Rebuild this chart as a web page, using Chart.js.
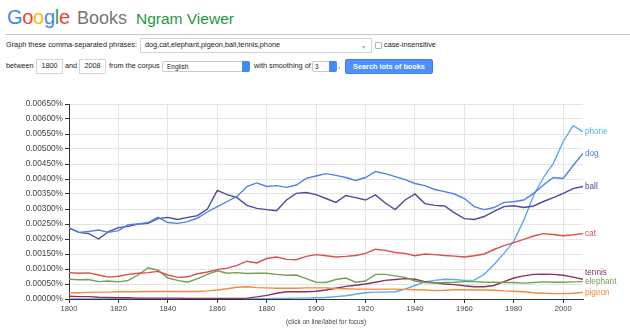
<!DOCTYPE html>
<html>
<head>
<meta charset="utf-8">
<script src="https://cdn.jsdelivr.net/npm/chart.js@4.4.1/dist/chart.umd.min.js"></script>
<style>
  body { margin: 0; width: 630px; height: 330px; background: #fff; position: relative; overflow: hidden;
         font-family: "Liberation Sans", Arial, sans-serif; color: #222; }
  .abs { position: absolute; white-space: nowrap; }
  .small { font-size: 7.3px; line-height: 10px; }
  .box { position: absolute; border: 1px solid #d4d4d4; background: #fff; box-sizing: border-box; }
  .sel { position: absolute; border: 1px solid #c9c9c9; border-radius: 2px; background: #fff; box-sizing: border-box; }
  .selarrow { position: absolute; right: -1px; top: -1px; bottom: -1px; width: 8px; background: #3f8cf3; border-radius: 0 2px 2px 0; }
  #wrap { position: absolute; left: 0; top: 90px; width: 630px; height: 240px; }
</style>
</head>
<body>
<div class="abs" style="left:7px;top:7px;font-size:20px;line-height:20px;letter-spacing:-0.3px"><span style="color:#4285f4">G</span><span style="color:#ea4335">o</span><span style="color:#fbbc05">o</span><span style="color:#4285f4">g</span><span style="color:#34a853">l</span><span style="color:#ea4335">e</span></div>
<div class="abs" style="left:77px;top:9px;font-size:18px;line-height:18px;color:#757575">Books</div>
<div class="abs" style="left:136px;top:11px;font-size:15.5px;line-height:15.5px;color:#1d9a3c">Ngram Viewer</div>
<div class="abs" style="left:5px;top:34px;width:625px;height:1px;background:#c8c8c8"></div>

<div class="abs small" style="left:6px;top:40px">Graph these comma-separated phrases:</div>
<div class="box" style="left:140px;top:38px;width:232px;height:15px"></div>
<div class="abs small" style="left:145px;top:40px">dog,cat,elephant,pigeon,ball,tennis,phone</div>
<div class="abs" style="left:362px;top:43px;font-size:6px;color:#aaa">&#9662;</div>
<div class="abs" style="left:375px;top:42px;width:7px;height:7px;border:1px solid #b5b5b5;border-radius:1px;box-sizing:border-box"></div>
<div class="abs small" style="left:384px;top:40px">case-insensitive</div>

<div class="abs small" style="left:6px;top:61px">between</div>
<div class="box" style="left:36px;top:59px;width:27px;height:15px"></div>
<div class="abs small" style="left:36px;top:61px;width:27px;text-align:center">1800</div>
<div class="abs small" style="left:65px;top:61px">and</div>
<div class="box" style="left:79px;top:59px;width:27px;height:15px"></div>
<div class="abs small" style="left:79px;top:61px;width:27px;text-align:center">2008</div>
<div class="abs small" style="left:109px;top:61px">from the corpus</div>
<div class="sel" style="left:162px;top:61px;width:88px;height:11px"><div class="selarrow"></div></div>
<div class="abs" style="left:167px;top:62px;font-size:6.5px;line-height:9px">English</div>
<div class="abs small" style="left:254px;top:61px">with smoothing of</div>
<div class="sel" style="left:312px;top:61px;width:25px;height:11px"><div class="selarrow"></div></div>
<div class="abs" style="left:315px;top:62px;font-size:6.5px;line-height:9px">3</div>
<div class="abs small" style="left:338px;top:61px">,</div>
<div class="abs" style="left:345px;top:59px;width:88px;height:15px;background:#4d90fe;border:1px solid #3b7ff0;border-radius:2px;box-sizing:border-box;color:#fff;font-weight:bold;font-size:7.3px;line-height:13px;text-align:center">Search lots of books</div>

<div id="wrap"><canvas id="ngram"></canvas></div>
<div class="abs" style="left:226px;top:318px;width:200px;text-align:center;font-size:6.5px;line-height:8px;color:#444">(click on line/label for focus)</div>

<script>
// years sampled every 4 years, values in percent
const years = [1800, 1804, 1808, 1812, 1816, 1820, 1824, 1828, 1832, 1836, 1840, 1844, 1848,
  1852, 1856, 1860, 1864, 1868, 1872, 1876, 1880, 1884, 1888, 1892, 1896, 1900, 1904, 1908,
  1912, 1916, 1920, 1924, 1928, 1932, 1936, 1940, 1944, 1948, 1952, 1956, 1960, 1964, 1968,
  1972, 1976, 1980, 1984, 1988, 1992, 1996, 2000, 2004, 2008]

const dog = [0.00237, 0.00222, 0.00225, 0.00230, 0.00222, 0.00228, 0.00248, 0.00250, 0.00255,
  0.00272, 0.00255, 0.00252, 0.00258, 0.00270, 0.00290, 0.00308, 0.00325, 0.00342, 0.00375,
  0.00387, 0.00375, 0.00378, 0.00372, 0.00380, 0.00402, 0.00410, 0.00418, 0.00412, 0.00405,
  0.00395, 0.00405, 0.00425, 0.00418, 0.00408, 0.00398, 0.00385, 0.00378, 0.00365, 0.00358,
  0.00350, 0.00335, 0.00308, 0.00298, 0.00305, 0.00322, 0.00324, 0.00330, 0.00352, 0.00380,
  0.00405, 0.00402, 0.00445, 0.00485]

const cat = [0.00088, 0.00086, 0.00087, 0.00080, 0.00073, 0.00076, 0.00082, 0.00086, 0.00088,
  0.00092, 0.00080, 0.00072, 0.00074, 0.00084, 0.00090, 0.00098, 0.00103, 0.00112, 0.00126,
  0.00120, 0.00135, 0.00140, 0.00132, 0.00131, 0.00142, 0.00148, 0.00144, 0.00140, 0.00142,
  0.00145, 0.00152, 0.00166, 0.00162, 0.00155, 0.00152, 0.00144, 0.00150, 0.00148, 0.00145,
  0.00143, 0.00140, 0.00144, 0.00150, 0.00165, 0.00178, 0.00188, 0.00199, 0.00210, 0.00218,
  0.00215, 0.00211, 0.00214, 0.00218]

const elephant = [0.00066, 0.00064, 0.00065, 0.00058, 0.00060, 0.00057, 0.00062, 0.00080,
  0.00104, 0.00096, 0.00070, 0.00062, 0.00056, 0.00068, 0.00082, 0.00094, 0.00086, 0.00088,
  0.00085, 0.00086, 0.00086, 0.00082, 0.00079, 0.00080, 0.00068, 0.00056, 0.00055, 0.00065,
  0.00070, 0.00056, 0.00060, 0.00082, 0.00082, 0.00077, 0.00072, 0.00060, 0.00055, 0.00053,
  0.00055, 0.00056, 0.00058, 0.00058, 0.00056, 0.00056, 0.00055, 0.00055, 0.00053, 0.00055,
  0.00057, 0.00056, 0.00056, 0.00057, 0.00058]

const pigeon = [0.00020, 0.00021, 0.00022, 0.00023, 0.00023, 0.00024, 0.00024, 0.00024,
  0.00025, 0.00025, 0.00025, 0.00025, 0.00025, 0.00025, 0.00027, 0.00030, 0.00034, 0.00039,
  0.00041, 0.00038, 0.00037, 0.00036, 0.00036, 0.00036, 0.00037, 0.00037, 0.00037, 0.00035,
  0.00034, 0.00033, 0.00033, 0.00032, 0.00033, 0.00033, 0.00032, 0.00031, 0.00030, 0.00028,
  0.00029, 0.00031, 0.00031, 0.00030, 0.00030, 0.00029, 0.00027, 0.00026, 0.00024, 0.00021,
  0.00019, 0.00018, 0.00018, 0.00019, 0.00022]

const ball = [0.00237, 0.00222, 0.00218, 0.00200, 0.00225, 0.00238, 0.00242, 0.00250, 0.00252,
  0.00268, 0.00272, 0.00265, 0.00272, 0.00278, 0.00300, 0.00362, 0.00348, 0.00338, 0.00312,
  0.00302, 0.00298, 0.00294, 0.00330, 0.00352, 0.00355, 0.00348, 0.00335, 0.00322, 0.00345,
  0.00338, 0.00330, 0.00347, 0.00320, 0.00298, 0.00330, 0.00350, 0.00318, 0.00312, 0.00310,
  0.00287, 0.00268, 0.00265, 0.00275, 0.00292, 0.00308, 0.00311, 0.00305, 0.00310, 0.00325,
  0.00338, 0.00352, 0.00368, 0.00375]

const tennis = [0.00009, 0.00008, 0.00008, 0.00006, 0.00005, 0.00004, 0.00004, 0.00003,
  0.00003, 0.00003, 0.00003, 0.00003, 0.00002, 0.00002, 0.00002, 0.00002, 0.00002, 0.00002,
  0.00003, 0.00007, 0.00012, 0.00019, 0.00024, 0.00024, 0.00024, 0.00026, 0.00030, 0.00036,
  0.00042, 0.00046, 0.00050, 0.00056, 0.00062, 0.00065, 0.00068, 0.00066, 0.00058, 0.00054,
  0.00050, 0.00048, 0.00044, 0.00041, 0.00041, 0.00045, 0.00058, 0.00070, 0.00077, 0.00082,
  0.00083, 0.00082, 0.00079, 0.00073, 0.00066]

const phone = [0, 0, 0, 0, 0, 0, 0, 0, 0, 0, 0, 0, 0, 0, 0, 0, 0, 0, 0, 0.00001, 0.00001,
  0.00002, 0.00002, 0.00003, 0.00003, 0.00004, 0.00005, 0.00008, 0.00011, 0.00016, 0.00021,
  0.00023, 0.00023, 0.00024, 0.00033, 0.00045, 0.00057, 0.00062, 0.00066, 0.00065, 0.00062,
  0.00063, 0.00082, 0.00115, 0.00152, 0.00192, 0.00262, 0.00345, 0.00405, 0.00452, 0.00525,
  0.00578, 0.00558]

const xTicks = [1800, 1820, 1840, 1860, 1880, 1900, 1920, 1940, 1960, 1980, 2000]
const yTicks = [0, 0.0005, 0.001, 0.0015, 0.002, 0.0025, 0.003, 0.0035, 0.004, 0.0045, 0.005,
  0.0055, 0.006, 0.0065]

const series = [
  { label: 'dog', values: dog, color: '#4f82e3' },
  { label: 'cat', values: cat, color: '#dc4e48' },
  { label: 'elephant', values: elephant, color: '#72a150' },
  { label: 'pigeon', values: pigeon, color: '#f5893b' },
  { label: 'ball', values: ball, color: '#4d4a9c' },
  { label: 'tennis', values: tennis, color: '#8e2f62' },
  { label: 'phone', values: phone, color: '#5aa9f7' },
]

// word labels at the right end of each line
const endLabels = {
  id: 'endLabels',
  afterDatasetsDraw(chart) {
    const { ctx, chartArea } = chart
    const items = chart.data.datasets.map((ds, i) => {
      const pts = chart.getDatasetMeta(i).data
      return { text: ds.label, color: ds.borderColor, y: pts[pts.length - 1].y }
    }).sort((a, b) => b.y - a.y)
    for (let i = 1; i < items.length; i++) {
      if (items[i].y > items[i - 1].y - 8.5) items[i].y = items[i - 1].y - 8.5
    }
    ctx.save()
    ctx.font = '8.2px "Liberation Sans", Arial, sans-serif'
    ctx.textBaseline = 'middle'
    items.forEach(it => {
      ctx.fillStyle = it.color
      ctx.fillText(it.text, chartArea.right + 2, it.y)
    })
    ctx.restore()
  }
}

new Chart(document.getElementById('ngram').getContext('2d'), {
  type: 'line',
  data: {
    datasets: series.map(s => ({
      label: s.label,
      data: years.map((yr, i) => ({ x: yr, y: s.values[i] })),
      borderColor: s.color,
      backgroundColor: s.color,
      borderWidth: 1.4,
      pointRadius: 0,
      tension: 0,
      fill: false,
    }))
  },
  options: {
    responsive: true,
    maintainAspectRatio: false,
    animation: false,
    layout: { padding: { top: 14, right: 47, left: 0, bottom: 0 } },
    plugins: {
      legend: { display: false },
      tooltip: { enabled: false },
    },
    scales: {
      x: {
        type: 'linear',
        min: 1800,
        max: 2008,
        afterBuildTicks: scale => {
          scale.ticks = xTicks.map(v => ({ value: v }))
        },
        afterFit: scale => { scale.height = 31 },
        grid: { color: '#e4e4e4', tickColor: '#333', tickLength: 4 },
        border: { color: '#333', width: 1 },
        ticks: {
          color: '#444',
          padding: 1,
          maxRotation: 0,
          callback: v => String(v),
          font: { family: '"Liberation Sans", Arial, sans-serif', size: 7.6 },
        },
      },
      y: {
        min: 0,
        max: 0.0065,
        afterBuildTicks: scale => {
          scale.ticks = yTicks.map(v => ({ value: v }))
        },
        afterFit: scale => { scale.width = 69 },
        grid: { color: '#e4e4e4', tickColor: '#333', tickLength: 4 },
        border: { color: '#333', width: 1 },
        ticks: {
          color: '#444',
          padding: 2,
          callback: v => v.toFixed(5) + '%',
          font: { family: '"Liberation Sans", Arial, sans-serif', size: 8.3 },
        },
      },
    },
  },
  plugins: [endLabels],
})
</script>
</body>
</html>
